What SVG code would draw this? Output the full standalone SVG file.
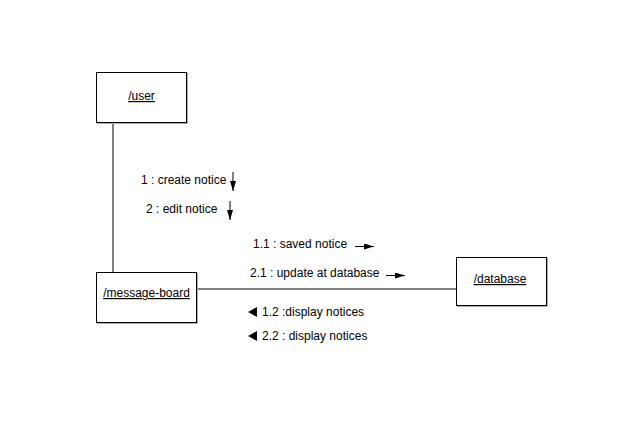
<svg xmlns="http://www.w3.org/2000/svg" width="622" height="424" viewBox="0 0 622 424">
<style>
.box{fill:#fff;stroke:#000;stroke-width:1}
.shadow{fill:none;stroke:#b0b0b0;stroke-width:1}
.name{font-family:"Liberation Sans",Arial,sans-serif;font-size:12px;text-decoration:underline;text-anchor:middle;fill:#000}
.lbl{font-family:"Liberation Sans",Arial,sans-serif;font-size:12px;fill:#000}
.conn{stroke:#000;stroke-width:1;fill:none}
</style>
<defs>
<marker id="ah" viewBox="0 0 10 6" refX="10" refY="3" markerWidth="10" markerHeight="6" markerUnits="userSpaceOnUse" orient="auto">
<path d="M0,0 L10,3 L0,6 Z" fill="#000"/>
</marker>
</defs>
<rect width="622" height="424" fill="#fff"/>
<g id="connectors">
<line class="conn" x1="113" y1="122" x2="113" y2="272"/>
<line class="conn" x1="196" y1="289" x2="456" y2="289"/>
</g>
<g id="user">
<polyline class="shadow" points="187.5,73 187.5,123.5 97,123.5"/>
<rect class="box" x="96.5" y="72.5" width="90" height="50"/>
<text class="name" x="141.5" y="100">/user</text>
</g>
<g id="message-board">
<polyline class="shadow" points="197.5,273 197.5,323.5 97,323.5"/>
<rect class="box" x="96.5" y="272.5" width="100" height="50"/>
<text class="name" x="146.5" y="297">/message-board</text>
</g>
<g id="database">
<polyline class="shadow" points="547.5,258 547.5,306.5 457,306.5"/>
<rect class="box" x="456.5" y="257.5" width="90" height="48"/>
<text class="name" x="500" y="283">/database</text>
</g>
<g id="labels">
<text class="lbl" x="141" y="184">1 : create notice</text>
<line class="conn" x1="233" y1="172" x2="233" y2="191" marker-end="url(#ah)"/>
<text class="lbl" x="146" y="213">2 : edit notice</text>
<line class="conn" x1="230" y1="201" x2="230" y2="220" marker-end="url(#ah)"/>
<text class="lbl" x="253" y="248">1.1 : saved notice</text>
<line class="conn" x1="355" y1="246.5" x2="374" y2="246.5" marker-end="url(#ah)"/>
<text class="lbl" x="250" y="277">2.1 : update at database</text>
<line class="conn" x1="386" y1="275.5" x2="405" y2="275.5" marker-end="url(#ah)"/>
<path d="M248,312 L257,307 L257,317 Z" fill="#000"/>
<text class="lbl" x="262" y="316">1.2 :display notices</text>
<path d="M248,336 L257,331 L257,341 Z" fill="#000"/>
<text class="lbl" x="262" y="340">2.2 : display notices</text>
</g>
</svg>
